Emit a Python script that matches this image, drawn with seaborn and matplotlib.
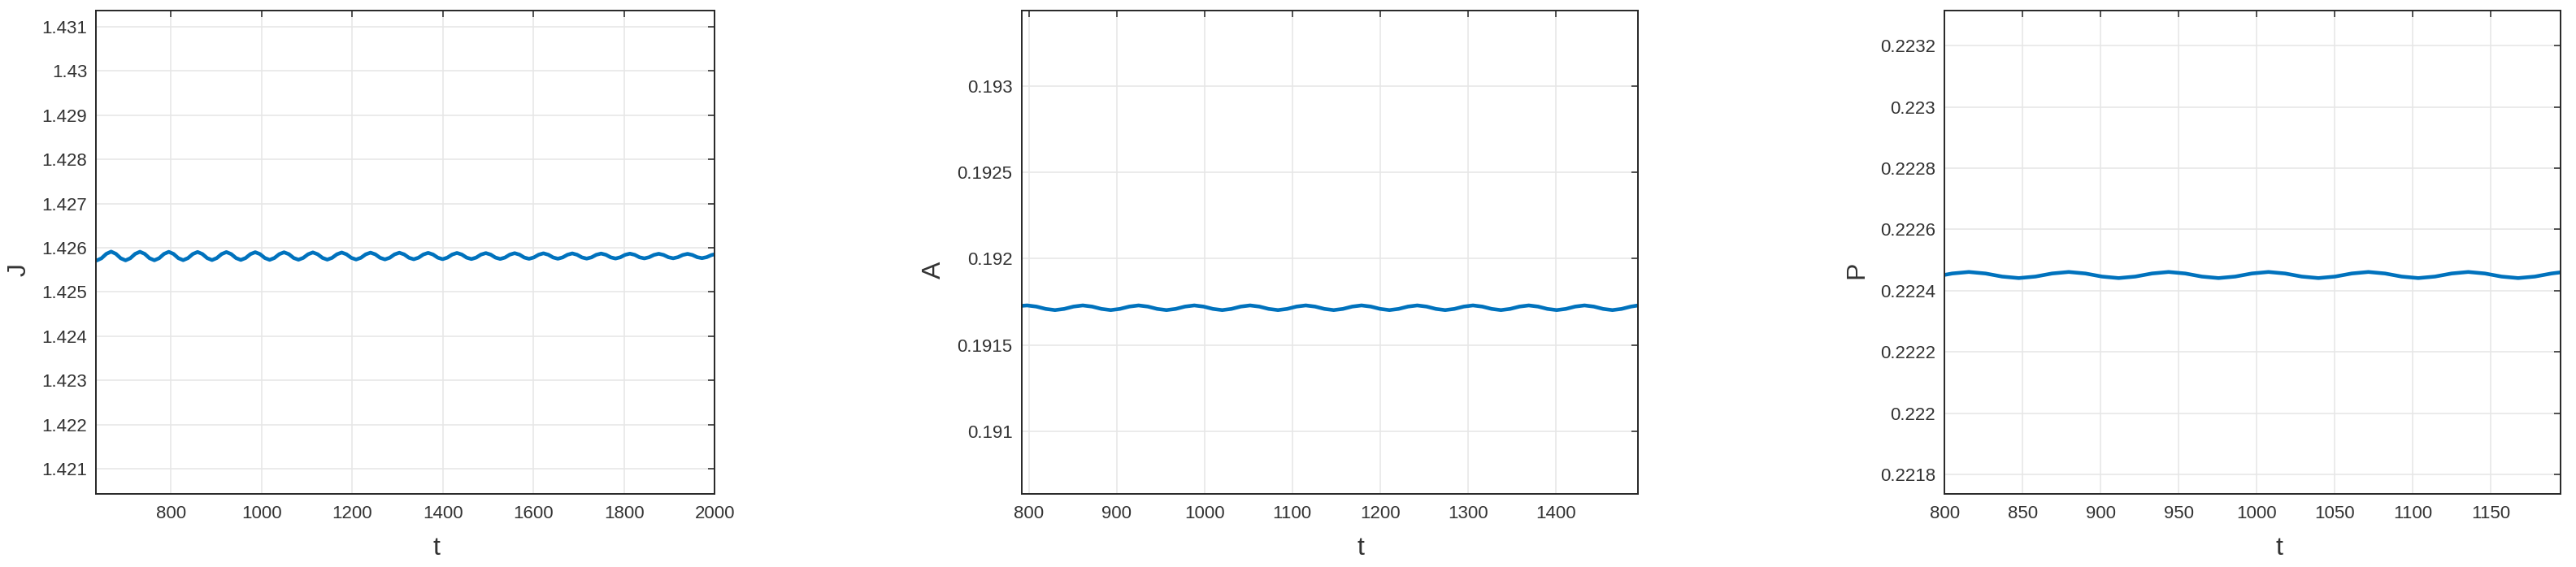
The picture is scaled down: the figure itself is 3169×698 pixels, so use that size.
import numpy as np
import pandas as pd
import matplotlib
matplotlib.use("Agg")
import matplotlib.pyplot as plt
import seaborn as sns

# ---- panel 1: J(t) ----
j_t = [635.0,
       636.2, 646.8, 657.4, 668.0, 678.6, 689.2,
       699.8, 710.4, 721.0, 731.6, 742.2, 752.8,
       763.4, 774.0, 784.6, 795.2, 805.8, 816.4,
       827.0, 837.6, 848.2, 858.8, 869.4, 880.0,
       890.6, 901.2, 911.8, 922.4, 933.0, 943.6,
       954.2, 964.8, 975.4, 986.0, 996.6, 1007.2,
       1017.8, 1028.4, 1039.0, 1049.6, 1060.2, 1070.8,
       1081.4, 1092.0, 1102.6, 1113.2, 1123.8, 1134.4,
       1145.0, 1155.6, 1166.2, 1176.8, 1187.4, 1198.0,
       1208.6, 1219.2, 1229.8, 1240.4, 1251.0, 1261.6,
       1272.2, 1282.8, 1293.4, 1304.0, 1314.6, 1325.2,
       1335.8, 1346.4, 1357.0, 1367.6, 1378.2, 1388.8,
       1399.4, 1410.0, 1420.6, 1431.2, 1441.8, 1452.4,
       1463.0, 1473.6, 1484.2, 1494.8, 1505.4, 1516.0,
       1526.6, 1537.2, 1547.8, 1558.4, 1569.0, 1579.6,
       1590.2, 1600.8, 1611.4, 1622.0, 1632.6, 1643.2,
       1653.8, 1664.4, 1675.0, 1685.6, 1696.2, 1706.8,
       1717.4, 1728.0, 1738.6, 1749.2, 1759.8, 1770.4,
       1781.0, 1791.6, 1802.2, 1812.8, 1823.4, 1834.0,
       1844.6, 1855.2, 1865.8, 1876.4, 1887.0, 1897.6,
       1908.2, 1918.8, 1929.4, 1940.0, 1950.6, 1961.2,
       1971.8, 1982.4, 1993.0, 2000.0]
j_val = [1.425713,
         1.425712, 1.425762, 1.425862, 1.425912, 1.425862, 1.425762,
         1.425715, 1.425763, 1.425861, 1.425909, 1.425861, 1.425763,
         1.425717, 1.425764, 1.425860, 1.425907, 1.425860, 1.425764,
         1.425720, 1.425766, 1.425858, 1.425904, 1.425858, 1.425766,
         1.425722, 1.425767, 1.425857, 1.425902, 1.425857, 1.425767,
         1.425725, 1.425768, 1.425856, 1.425899, 1.425856, 1.425768,
         1.425727, 1.425769, 1.425855, 1.425897, 1.425855, 1.425769,
         1.425730, 1.425771, 1.425853, 1.425894, 1.425853, 1.425771,
         1.425732, 1.425772, 1.425852, 1.425892, 1.425852, 1.425772,
         1.425735, 1.425773, 1.425851, 1.425889, 1.425851, 1.425773,
         1.425737, 1.425774, 1.425850, 1.425887, 1.425850, 1.425774,
         1.425740, 1.425776, 1.425848, 1.425884, 1.425848, 1.425776,
         1.425742, 1.425777, 1.425847, 1.425882, 1.425847, 1.425777,
         1.425745, 1.425778, 1.425846, 1.425879, 1.425846, 1.425778,
         1.425747, 1.425779, 1.425845, 1.425877, 1.425845, 1.425779,
         1.425750, 1.425781, 1.425843, 1.425874, 1.425843, 1.425781,
         1.425752, 1.425782, 1.425842, 1.425872, 1.425842, 1.425782,
         1.425755, 1.425783, 1.425841, 1.425869, 1.425841, 1.425783,
         1.425757, 1.425784, 1.425840, 1.425867, 1.425840, 1.425784,
         1.425760, 1.425786, 1.425838, 1.425864, 1.425838, 1.425786,
         1.425762, 1.425787, 1.425837, 1.425862, 1.425837, 1.425787,
         1.425765, 1.425788, 1.425836, 1.425852]
j_xticks = [800, 1000, 1200, 1400, 1600, 1800, 2000]
j_yticks = [1.421, 1.422, 1.423, 1.424, 1.425, 1.426, 1.427, 1.428, 1.429, 1.430, 1.431]
j_ylabels = ["1.421", "1.422", "1.423", "1.424", "1.425", "1.426", "1.427", "1.428", "1.429", "1.43", "1.431"]

# ---- panel 2: A(t) ----
a_t = [792.0,
       797.9, 808.5, 819.1, 829.7, 840.2, 850.8,
       861.4, 872.0, 882.6, 893.2, 903.7, 914.3,
       924.9, 935.5, 946.1, 956.7, 967.2, 977.8,
       988.4, 999.0, 1009.6, 1020.2, 1030.7, 1041.3,
       1051.9, 1062.5, 1073.1, 1083.7, 1094.2, 1104.8,
       1115.4, 1126.0, 1136.6, 1147.2, 1157.7, 1168.3,
       1178.9, 1189.5, 1200.1, 1210.7, 1221.2, 1231.8,
       1242.4, 1253.0, 1263.6, 1274.2, 1284.7, 1295.3,
       1305.9, 1316.5, 1327.1, 1337.7, 1348.2, 1358.8,
       1369.4, 1380.0, 1390.6, 1401.2, 1411.7, 1422.3,
       1432.9, 1443.5, 1454.1, 1464.7, 1475.2, 1485.8,
       1493.8]
a_val = [0.1917262,
         0.1917285, 0.1917218, 0.1917083, 0.1917015, 0.1917083, 0.1917218,
         0.1917285, 0.1917218, 0.1917083, 0.1917015, 0.1917083, 0.1917218,
         0.1917285, 0.1917218, 0.1917083, 0.1917015, 0.1917083, 0.1917218,
         0.1917285, 0.1917218, 0.1917083, 0.1917015, 0.1917083, 0.1917218,
         0.1917285, 0.1917218, 0.1917083, 0.1917015, 0.1917083, 0.1917218,
         0.1917285, 0.1917218, 0.1917083, 0.1917015, 0.1917083, 0.1917218,
         0.1917285, 0.1917218, 0.1917083, 0.1917015, 0.1917083, 0.1917218,
         0.1917285, 0.1917218, 0.1917083, 0.1917015, 0.1917083, 0.1917218,
         0.1917285, 0.1917218, 0.1917083, 0.1917015, 0.1917083, 0.1917218,
         0.1917285, 0.1917218, 0.1917083, 0.1917015, 0.1917083, 0.1917218,
         0.1917285, 0.1917218, 0.1917083, 0.1917015, 0.1917083, 0.1917218,
         0.1917282]
a_xticks = [800, 900, 1000, 1100, 1200, 1300, 1400]
a_yticks = [0.191, 0.1915, 0.192, 0.1925, 0.193]
a_ylabels = ["0.191", "0.1915", "0.192", "0.1925", "0.193"]

# ---- panel 3: P(t) ----
p_t = [800.0, 804.8,
       815.5, 826.2, 836.8, 847.5, 858.2, 868.8,
       879.5, 890.2, 900.8, 911.5, 922.2, 932.8,
       943.5, 954.2, 964.8, 975.5, 986.2, 996.8,
       1007.5, 1018.2, 1028.8, 1039.5, 1050.2, 1060.8,
       1071.5, 1082.2, 1092.8, 1103.5, 1114.2, 1124.8,
       1135.5, 1146.2, 1156.8, 1167.5, 1178.2, 1188.8,
       1194.8]
p_val = [0.2224515, 0.2224560,
         0.2224610, 0.2224560, 0.2224460, 0.2224410, 0.2224460, 0.2224560,
         0.2224610, 0.2224560, 0.2224460, 0.2224410, 0.2224460, 0.2224560,
         0.2224610, 0.2224560, 0.2224460, 0.2224410, 0.2224460, 0.2224560,
         0.2224610, 0.2224560, 0.2224460, 0.2224410, 0.2224460, 0.2224560,
         0.2224610, 0.2224560, 0.2224460, 0.2224410, 0.2224460, 0.2224560,
         0.2224610, 0.2224560, 0.2224460, 0.2224410, 0.2224460, 0.2224560,
         0.2224598]
p_xticks = [800, 850, 900, 950, 1000, 1050, 1100, 1150]
p_yticks = [0.2218, 0.2220, 0.2222, 0.2224, 0.2226, 0.2228, 0.2230, 0.2232]
p_ylabels = ["0.2218", "0.222", "0.2222", "0.2224", "0.2226", "0.2228", "0.223", "0.2232"]

sns.set_style("white")
plt.rcParams["font.family"] = ["Liberation Sans", "DejaVu Sans"]

line_color = "#0072BD"
text_color = "#333333"
axis_color = "#262626"

fig = plt.figure(figsize=(31.69, 6.98), dpi=100)

panels = [
    # position, t, values, xlim, ylim, xticks, yticks, ylabels, ylabel, label coords
    ([0.03733, 0.12894, 0.24014, 0.85287], j_t, j_val, (635, 2000), (1.420436, 1.431367),
     j_xticks, j_yticks, j_ylabels, "J", -0.125, 0.55),
    ([0.39656, 0.12894, 0.23929, 0.85287], a_t, a_val, (791.6, 1493.8), (0.190636, 0.193439),
     a_xticks, a_yticks, a_ylabels, "A", -0.142, 0.55),
    ([0.75491, 0.12894, 0.23919, 0.85287], p_t, p_val, (800, 1194.8), (0.2217363, 0.2233154),
     p_xticks, p_yticks, p_ylabels, "P", -0.143, 0.543),
]

for pos, t, vals, xlim, ylim, xt, yt, ylab, name, ylx, xlx in panels:
    ax = fig.add_axes(pos)
    df = pd.DataFrame({"t": t, name: vals})
    sns.lineplot(data=df, x="t", y=name, ax=ax, color=line_color,
                 linewidth=3.3, sort=False, estimator=None)
    ax.set_xlim(*xlim)
    ax.set_ylim(*ylim)
    ax.set_xticks(xt)
    ax.set_xticklabels([str(v) for v in xt])
    ax.set_yticks(yt)
    ax.set_yticklabels(ylab)
    ax.grid(True, color="#e6e6e6", linewidth=1.1)
    ax.set_axisbelow(True)
    for sp in ax.spines.values():
        sp.set_visible(True)
        sp.set_color(axis_color)
        sp.set_linewidth(1.4)
    ax.tick_params(axis="both", direction="in", length=5.5, width=1.1,
                   color=axis_color, labelcolor=text_color, labelsize=16,
                   top=True, right=True)
    ax.tick_params(axis="x", pad=10)
    ax.tick_params(axis="y", pad=8)
    ax.set_xlabel("t", fontsize=23, color=text_color)
    ax.set_ylabel(name, fontsize=23, color=text_color)
    ax.xaxis.set_label_coords(xlx, -0.1125)
    ax.xaxis.label.set_verticalalignment("center")
    ax.yaxis.set_label_coords(ylx, 0.4636)
    ax.yaxis.label.set_verticalalignment("center")

fig.savefig("out.png", dpi=100, facecolor="white")
